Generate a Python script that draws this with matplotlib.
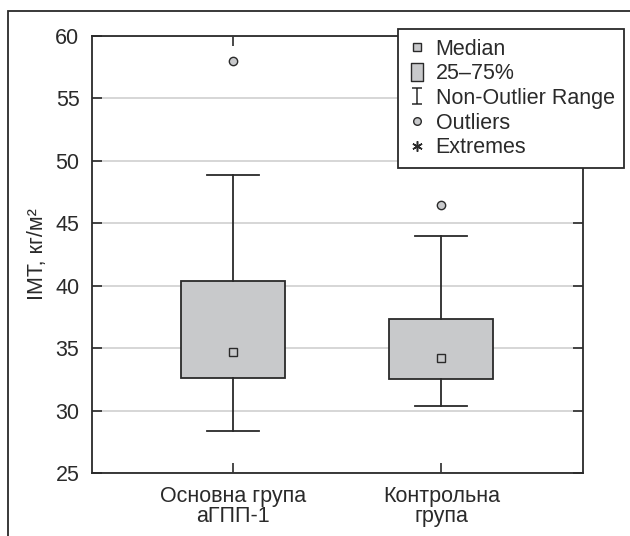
import matplotlib
matplotlib.use("Agg")
import matplotlib.pyplot as plt
from matplotlib.lines import Line2D
from matplotlib.patches import Rectangle
from matplotlib.path import Path

# Box-plot summary per group
groups = ["Основна група\nаГПП-1", "Контрольна\nгрупа"]
medians = [34.7, 34.2]
q1 = [32.6, 32.5]
q3 = [40.4, 37.3]
whisk_lo = [28.4, 30.4]
whisk_hi = [48.9, 44.0]
outliers = [[58.0], [46.5]]

y_ticks = [25, 30, 35, 40, 45, 50, 55, 60]
legend_labels = ["Median", "25–75%", "Non-Outlier Range", "Outliers", "Extremes"]

DARK = "#2a2a2a"
BOX_FILL = "#c8c9cb"
GRID = "#cccccc"
FS = 15.5

plt.rcParams['font.family'] = ['Liberation Sans', 'DejaVu Sans']

fig = plt.figure(figsize=(6.3, 5.36), dpi=100)
ax = fig.add_axes([0.146, 0.1175, 0.779, 0.8155])

positions = [1, 2]
stats = []
for i in range(len(groups)):
    stats.append({
        "med": medians[i], "q1": q1[i], "q3": q3[i],
        "whislo": whisk_lo[i], "whishi": whisk_hi[i],
        "fliers": outliers[i], "label": groups[i],
    })

ax.bxp(stats, positions=positions, widths=0.5, patch_artist=True,
       boxprops=dict(facecolor=BOX_FILL, edgecolor=DARK, linewidth=1.3),
       whiskerprops=dict(color=DARK, linewidth=1.3),
       capprops=dict(color=DARK, linewidth=1.3),
       medianprops=dict(linestyle="none"),
       flierprops=dict(marker="o", markerfacecolor=BOX_FILL, markeredgecolor=DARK,
                       markersize=6, markeredgewidth=1.0),
       capwidths=0.25, zorder=3)

# median squares
ax.plot(positions, medians, linestyle="none", marker="s", markersize=6,
        markerfacecolor=BOX_FILL, markeredgecolor=DARK, markeredgewidth=1.0, zorder=4)

ax.set_xlim(0.325, 2.678)
ax.set_ylim(25, 60)
ax.set_yticks(y_ticks)
ax.set_xticks(positions)
ax.set_xticklabels(groups, fontsize=FS, color=DARK, linespacing=0.95)
ax.tick_params(axis="y", labelsize=FS, labelcolor=DARK)
ax.tick_params(direction="in", length=7.5, width=1.2, color=DARK,
               top=True, right=True)
ax.tick_params(axis="y", pad=9)
ax.tick_params(axis="x", pad=9)
ax.grid(axis="y", color=GRID, linewidth=1.1, zorder=0)
ax.set_axisbelow(True)
for s in ax.spines.values():
    s.set_color(DARK)
    s.set_linewidth(1.3)

ax.set_ylabel("ІМТ, кг/м²", fontsize=FS, color=DARK, labelpad=5)

# legend symbols: I-beam for the whisker range, tall box for the quartiles
ibeam = Path([(-0.6, 1), (0.6, 1), (0, 1), (0, -1), (-0.6, -1), (0.6, -1)],
             [Path.MOVETO, Path.LINETO, Path.MOVETO, Path.LINETO, Path.MOVETO, Path.LINETO])
tallbox = Path([(-0.7, -1), (0.7, -1), (0.7, 1), (-0.7, 1), (-0.7, -1)],
               [Path.MOVETO, Path.LINETO, Path.LINETO, Path.LINETO, Path.CLOSEPOLY])

handles = [
    Line2D([], [], linestyle="none", marker="s", markersize=5.5,
           markerfacecolor=BOX_FILL, markeredgecolor=DARK, markeredgewidth=1.0),
    Line2D([], [], linestyle="none", marker=tallbox, markersize=12.5,
           markerfacecolor=BOX_FILL, markeredgecolor=DARK, markeredgewidth=1.0),
    Line2D([], [], linestyle="none", marker=ibeam, markersize=11,
           markerfacecolor="none", markeredgecolor=DARK, markeredgewidth=1.1),
    Line2D([], [], linestyle="none", marker="o", markersize=5.5,
           markerfacecolor=BOX_FILL, markeredgecolor=DARK, markeredgewidth=1.0),
    Line2D([], [], linestyle="none", marker=(6, 2, 0), markersize=7.5,
           markeredgecolor=DARK, markeredgewidth=1.1),
]
leg = fig.legend(handles, legend_labels, loc="upper left",
                 bbox_to_anchor=(398 / 630, 1 - 29 / 536), bbox_transform=fig.transFigure,
                 fontsize=FS, frameon=True, fancybox=False, borderaxespad=0,
                 handlelength=0.9, handletextpad=0.4, labelspacing=0.17,
                 borderpad=0.45)
leg.get_frame().set_edgecolor(DARK)
leg.get_frame().set_linewidth(1.3)
leg.get_frame().set_alpha(1)
for t in leg.get_texts():
    t.set_color(DARK)

# outer frame around the whole figure
fig.patches.append(Rectangle((8 / 630, -0.1), 1.2, 1.1 - 11 / 536, transform=fig.transFigure,
                             fill=False, edgecolor=DARK, linewidth=1.3))

fig.savefig("out.png", dpi=100)
